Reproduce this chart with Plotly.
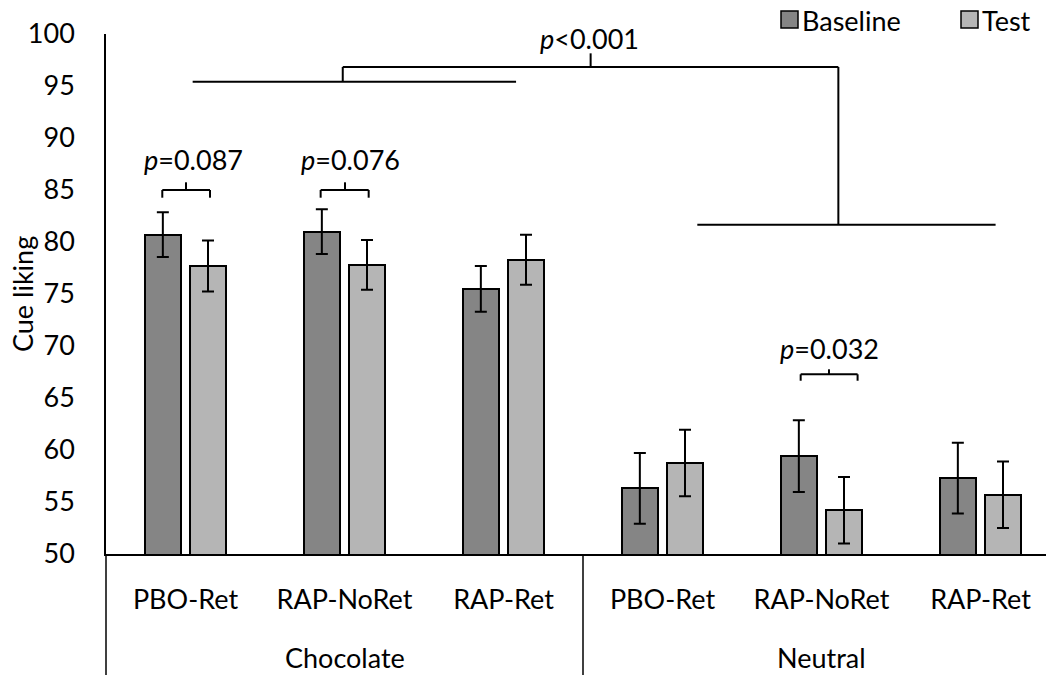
import plotly.graph_objects as go

# Cue liking by condition, baseline vs test (mean ± SEM)
conditions = ["PBO-Ret", "RAP-NoRet", "RAP-Ret", "PBO-Ret", "RAP-NoRet", "RAP-Ret"]
cue_groups = ["Chocolate", "Neutral"]
baseline = [80.7, 81.0, 75.5, 56.3, 59.4, 57.3]
baseline_err = [2.15, 2.15, 2.2, 3.4, 3.45, 3.4]
test = [77.7, 77.8, 78.3, 58.75, 54.2, 55.7]
test_err = [2.45, 2.4, 2.4, 3.2, 3.2, 3.2]
y_ticks = [50, 55, 60, 65, 70, 75, 80, 85, 90, 95, 100]

FONT = "Lato"
FS = 27
BASE_COL = "#858585"
TEST_COL = "#b5b5b5"
pos = list(range(len(conditions)))

fig = go.Figure()
fig.add_trace(go.Bar(
    x=pos, y=baseline, width=0.225, offset=-0.255,
    marker=dict(color=BASE_COL, line=dict(color="black", width=2)),
    error_y=dict(type="data", array=baseline_err, color="black", thickness=2, width=6),
    showlegend=False,
))
fig.add_trace(go.Bar(
    x=pos, y=test, width=0.225, offset=0.029,
    marker=dict(color=TEST_COL, line=dict(color="black", width=2)),
    error_y=dict(type="data", array=test_err, color="black", thickness=2, width=6),
    showlegend=False,
))

L, T, W, H = 106, 34, 940, 520


def px_x(p):
    return (p - L) / W


def px_y(p):
    return (T + H - p) / H


shapes = []


def seg(x0, y0, x1, y1, ref="data"):
    if ref == "data":
        shapes.append(dict(type="line", xref="x", yref="y", x0=x0, y0=y0, x1=x1, y1=y1,
                           line=dict(color="black", width=2)))
    else:
        shapes.append(dict(type="line", xref="paper", yref="paper", x0=x0, y0=y0, x1=x1, y1=y1,
                           line=dict(color="black", width=1.5)))


def bracket(xl, xr, xm, y_low, y_top, y_tick):
    seg(xl, y_low, xl, y_top)
    seg(xl, y_top, xr, y_top)
    seg(xr, y_top, xr, y_low)
    seg(xm, y_top, xm, y_tick)


# pairwise comparisons
bracket(-0.146, 0.154, 0.003, 84.26, 85.0, 85.74)
bracket(0.850, 1.152, 1.003, 84.26, 85.0, 85.74)
bracket(3.869, 4.227, 4.047, 66.66, 67.28, 67.76)

# chocolate vs neutral comparison
seg(0.045, 95.41, 2.079, 95.41)
seg(0.989, 95.41, 0.989, 96.83)
seg(0.989, 96.83, 4.106, 96.83)
seg(2.548, 96.83, 2.548, 98.14)
seg(4.106, 96.83, 4.106, 81.66)
seg(3.219, 81.66, 5.095, 81.66)

# category group dividers below the axis
bottom = px_y(675)
seg(0, 0, 0, bottom, ref="paper")
seg(px_x(L + 3 * 159), 0, px_x(L + 3 * 159), bottom, ref="paper")

# legend swatches
for x0, col in [(781, BASE_COL), (961, TEST_COL)]:
    shapes.append(dict(type="rect", xref="paper", yref="paper",
                       x0=px_x(x0), x1=px_x(x0 + 17), y0=px_y(11), y1=px_y(28),
                       fillcolor=col, line=dict(color="black", width=1.5)))

annotations = []


def label(x, y, text, xref="x", yref="y", xanchor="center", angle=0):
    annotations.append(dict(x=x, y=y, xref=xref, yref=yref, text=text, showarrow=False,
                            xanchor=xanchor, yanchor="middle", textangle=angle,
                            font=dict(family=FONT, size=FS, color="black")))


label(0.05, 87.9, "<i>p</i>=0.087")
label(1.04, 87.9, "<i>p</i>=0.076")
label(4.05, 69.8, "<i>p</i>=0.032")
label(2.538, 99.6, "<i>p</i><0.001")
label(1.0, px_y(657), cue_groups[0], yref="paper")
label(4.0, px_y(657), cue_groups[1], yref="paper")
label(px_x(800), px_y(20), "Baseline", xref="paper", yref="paper", xanchor="left")
label(px_x(980), px_y(20), "Test", xref="paper", yref="paper", xanchor="left")
label(px_x(22), 0.5, "Cue liking", xref="paper", yref="paper", angle=-90)

fig.update_layout(
    width=1046, height=675,
    margin=dict(l=L, r=0, t=T, b=675 - T - H),
    plot_bgcolor="white", paper_bgcolor="white",
    font=dict(family=FONT, size=FS, color="black"),
    bargap=0, shapes=shapes, annotations=annotations,
    xaxis=dict(range=[-0.5, (1046 - L) / 159 - 0.5], tickvals=pos, ticktext=conditions,
               ticks="outside", ticklen=21, tickcolor="rgba(0,0,0,0)",
               showline=True, linecolor="black", linewidth=1.5, showgrid=False,
               zeroline=False, tickfont=dict(family=FONT, size=FS)),
    yaxis=dict(range=[50, 100], tickvals=y_ticks, ticks="outside", ticklen=24,
               tickcolor="rgba(0,0,0,0)", showline=True, linecolor="black", linewidth=1.5,
               showgrid=False, zeroline=False, tickfont=dict(family=FONT, size=FS)),
)

fig.write_html("out.html")
